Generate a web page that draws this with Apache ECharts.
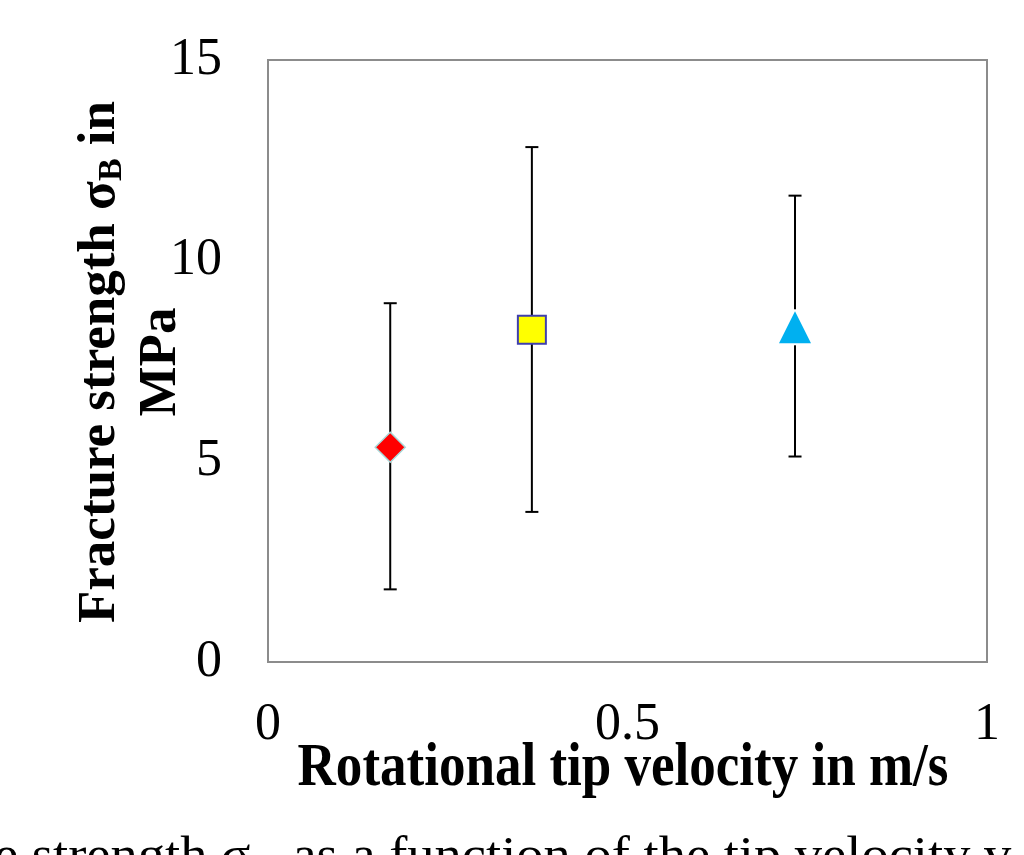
<!DOCTYPE html>
<html><head><meta charset="utf-8">
<script src="https://cdn.jsdelivr.net/npm/echarts@6/dist/echarts.min.js"></script>
<style>html,body{margin:0;padding:0;background:#fff;}#c{width:1024px;height:855px;}</style>
</head><body><div id="c"></div>
<script>
const velocity = [0.17, 0.367, 0.733];
const strength = [5.35, 8.28, 8.34];
const errLow = [1.81, 3.74, 5.12];
const errHigh = [8.94, 12.83, 11.62];
const xTicks = [0, 0.5, 1];
const yTicks = [0, 5, 10, 15];
const xTitle = 'Rotational tip velocity in m/s';
const yTitle1 = 'Fracture strength σ';
const yTitleSub = 'B';
const yTitle2 = ' in';
const yTitleLine2 = 'MPa';
const caption = 'e strength σ';
const captionRest = ' as a function of the tip velocity v';

const chart = echarts.init(document.getElementById('c'));
const serif = '"Liberation Serif", "Times New Roman", serif';
const gaps = [0, 0, 18];

const errData = velocity.map((v, i) => [v, errLow[i], errHigh[i], strength[i], i]);

chart.setOption({
  animation: false,
  grid: {left: 268, right: 37, top: 60, bottom: 193, show: true, borderColor: '#8c8c8c', borderWidth: 2, backgroundColor: 'transparent'},
  xAxis: {
    type: 'value', min: 0, max: 1, interval: 0.5,
    axisLine: {show: false}, axisTick: {show: false}, splitLine: {show: false},
    axisLabel: {fontFamily: serif, fontSize: 52, color: '#000', margin: 37,
      formatter: v => xTicks.includes(v) ? String(v) : ''}
  },
  yAxis: {
    type: 'value', min: 0, max: 15, interval: 5,
    axisLine: {show: false}, axisTick: {show: false}, splitLine: {show: false},
    axisLabel: {fontFamily: serif, fontSize: 52, color: '#000', margin: 46,
      formatter: v => yTicks.includes(v) ? String(v) : ''}
  },
  series: [
    {
      type: 'custom', z: 1,
      data: errData,
      renderItem: function (params, api) {
        const x = api.value(0);
        const lo = api.coord([x, api.value(1)]);
        const hi = api.coord([x, api.value(2)]);
        const mid = api.coord([x, api.value(3)]);
        const g = gaps[api.value(4)];
        const cap = 6.5;
        const st = {stroke: '#000', lineWidth: 2};
        return {type: 'group', children: [
          {type: 'line', shape: {x1: lo[0], y1: lo[1], x2: mid[0], y2: mid[1] + g}, style: st},
          {type: 'line', shape: {x1: mid[0], y1: mid[1] - g, x2: hi[0], y2: hi[1]}, style: st},
          {type: 'line', shape: {x1: lo[0] - cap, y1: lo[1], x2: lo[0] + cap, y2: lo[1]}, style: st},
          {type: 'line', shape: {x1: hi[0] - cap, y1: hi[1], x2: hi[0] + cap, y2: hi[1]}, style: st}
        ]};
      }
    },
    {
      type: 'scatter', z: 3, symbol: 'diamond', symbolSize: [30, 30],
      data: [[velocity[0], strength[0]]],
      itemStyle: {color: '#ff0000', borderColor: '#a8d8d8', borderWidth: 1.5, opacity: 1}
    },
    {
      type: 'scatter', z: 3, symbol: 'rect', symbolSize: 28,
      data: [[velocity[1], strength[1]]],
      itemStyle: {color: '#ffff00', borderColor: '#3f3fae', borderWidth: 2, opacity: 1}
    },
    {
      type: 'scatter', z: 3, symbol: 'triangle', symbolSize: [32, 32],
      data: [[velocity[2], strength[2]]],
      itemStyle: {color: '#00b0f0', opacity: 1}
    }
  ],
  graphic: [
    {
      type: 'text', x: 623, y: 738, z: 10, scaleX: 0.855, originX: 0,
      style: {text: xTitle, font: 'bold 62px ' + serif, fill: '#000', align: 'center'}
    },
    {
      type: 'text', x: 100, y: 362, rotation: Math.PI / 2, z: 10,
      style: {
        text: '{b|' + yTitle1 + '}{s|' + yTitleSub + '}{b|' + yTitle2 + '}',
        align: 'center', verticalAlign: 'middle',
        rich: {
          b: {font: 'bold 53px ' + serif, fill: '#000'},
          s: {font: 'bold 34px ' + serif, fill: '#000', padding: [24, 0, 0, 0]}
        }
      }
    },
    {
      type: 'text', x: 161, y: 362, rotation: Math.PI / 2, z: 10,
      style: {text: yTitleLine2, font: 'bold 53px ' + serif, fill: '#000', align: 'center', verticalAlign: 'middle'}
    },
    {
      type: 'text', x: -6, y: 821, z: 10, scaleX: 1.09, originX: 0,
      style: {
        text: '{c|' + caption + '}{s|B}{c|' + captionRest + '}',
        rich: {
          c: {font: '50px ' + serif, fill: '#000'},
          s: {font: '30px ' + serif, fill: '#000', padding: [44, 4, 0, 2]}
        }
      }
    }
  ]
});
</script></body></html>
